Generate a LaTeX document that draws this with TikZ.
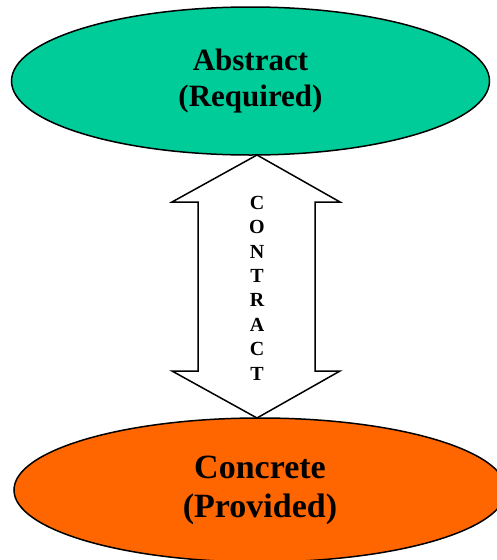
\documentclass[tikz,border=0pt]{standalone}
\usepackage{fontspec}
\setmainfont{Liberation Serif}
\usetikzlibrary{shapes.geometric}
\definecolor{abstractgreen}{HTML}{00CC99}
\definecolor{concreteorange}{HTML}{FF6600}
\begin{document}
\begin{tikzpicture}[x=1pt,y=-1pt,
  blob/.style={ellipse, draw=black, line width=1.5pt, inner sep=0pt, align=center,
    font=\bfseries},
  arrowbody/.style={draw=black, fill=white, line width=1.5pt, line join=miter}]
\useasboundingbox (0,0) rectangle (497,560);
% required (abstract) side
\node[blob, fill=abstractgreen, minimum width=478pt, minimum height=148pt,
  font=\bfseries\fontsize{31}{36}\selectfont] (top) at (250.5,81) {Abstract\\(Required)};
% provided (concrete) side
\node[blob, fill=concreteorange, minimum width=492pt, minimum height=144pt,
  font=\bfseries\fontsize{34}{39}\selectfont] (bot) at (260,490) {Concrete\\(Provided)};
% double-headed contract arrow between the two
\coordinate (tipA) at (257,155);
\coordinate (tipB) at (257,418);
\draw[arrowbody] (tipA) -- (340,202) -- (315,202) -- (315,371) -- (340,371)
  -- (tipB) -- (172,371) -- (198,371) -- (198,202) -- (172,202) -- cycle;
\node[font=\bfseries\fontsize{20}{24.4}\selectfont, align=center, inner sep=0pt]
  (contract) at (257,288) {C\\O\\N\\T\\R\\A\\C\\T};
\end{tikzpicture}
\end{document}
